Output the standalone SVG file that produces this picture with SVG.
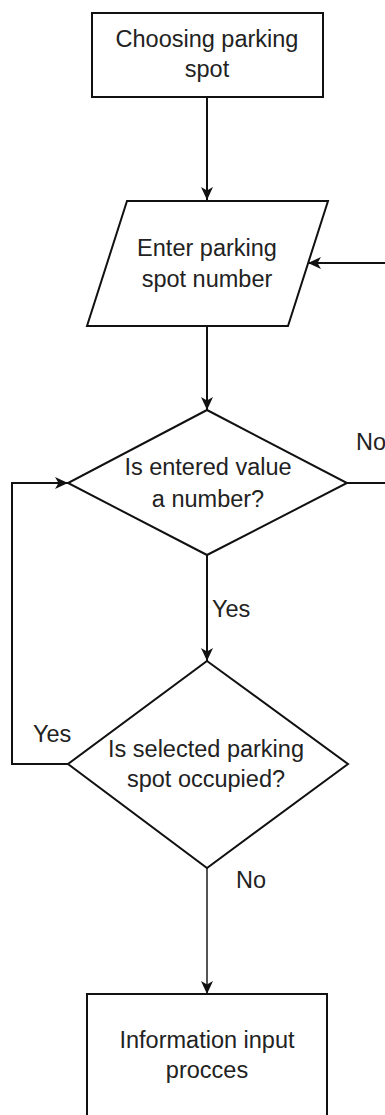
<svg xmlns="http://www.w3.org/2000/svg" width="385" height="1115" viewBox="0 0 385 1115">
  <style>
    .shape { fill: #ffffff; stroke: #111111; stroke-width: 2; }
    .conn { fill: none; stroke: #111111; stroke-width: 2; }
    .t { font-family: "Liberation Sans", Arial, sans-serif; font-size: 23.5px; fill: #222222; text-anchor: middle; }
    .lbl { font-family: "Liberation Sans", Arial, sans-serif; font-size: 23.5px; fill: #222222; }
  </style>
  <defs>
    <marker id="arrow" markerUnits="userSpaceOnUse" markerWidth="14" markerHeight="12" refX="13" refY="6" orient="auto">
      <path d="M0,0 L13,6 L0,12 L3.5,6 Z" fill="#111111"/>
    </marker>
  </defs>
  <rect width="385" height="1115" fill="#ffffff"/>

  <g id="connectors">
    <path class="conn" d="M207,97 V200" marker-end="url(#arrow)"/>
    <path class="conn" d="M207,326 V410" marker-end="url(#arrow)"/>
    <path class="conn" d="M207,555 V661" marker-end="url(#arrow)"/>
    <path class="conn" d="M207,868 V994" marker-end="url(#arrow)" style="stroke:#555555"/>
    <path class="conn" d="M68,764 H12 V483 H68" marker-end="url(#arrow)"/>
    <path class="conn" d="M347,483 H392 V263 H308" marker-end="url(#arrow)"/>
    <text class="lbl" x="212" y="617">Yes</text>
    <text class="lbl" x="356" y="450">No</text>
    <text class="lbl" x="33" y="742">Yes</text>
    <text class="lbl" x="236" y="888">No</text>
  </g>

  <g id="node-choosing">
    <rect class="shape" x="92" y="13" width="231" height="84"/>
    <text class="t" x="207" y="47">Choosing parking</text>
    <text class="t" x="207" y="77">spot</text>
  </g>

  <g id="node-enter">
    <polygon class="shape" points="127,201 328,201 288,326 87,326"/>
    <text class="t" x="207" y="256">Enter parking</text>
    <text class="t" x="207" y="287">spot number</text>
  </g>

  <g id="node-isnumber">
    <polygon class="shape" points="207,410 347,483 207,555 68,483"/>
    <text class="t" x="208" y="475">Is entered value</text>
    <text class="t" x="208" y="507">a number?</text>
  </g>

  <g id="node-occupied">
    <polygon class="shape" points="207,661 348,764 207,868 68,764"/>
    <text class="t" x="206" y="757">Is selected parking</text>
    <text class="t" x="206" y="787">spot occupied?</text>
  </g>

  <g id="node-info">
    <rect class="shape" x="87" y="994" width="240" height="150"/>
    <text class="t" x="207" y="1048">Information input</text>
    <text class="t" x="207" y="1078">procces</text>
  </g>
</svg>
